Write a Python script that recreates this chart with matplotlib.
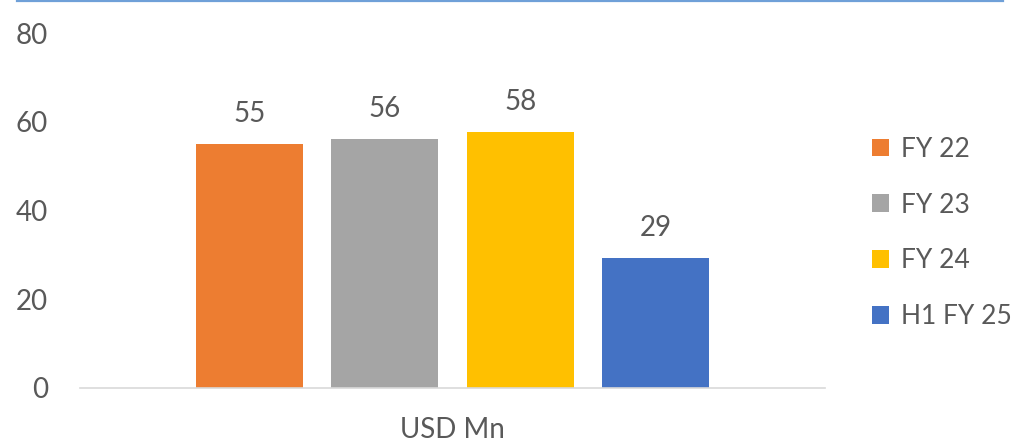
"""Clustered bar chart: revenue by fiscal period (USD Mn)."""

import matplotlib.pyplot as plt
from matplotlib.lines import Line2D
from matplotlib.patches import Patch

CATEGORY = "USD Mn"
SERIES = ["FY 22", "FY 23", "FY 24", "H1 FY 25"]
VALUES = [55.0, 56.1, 57.8, 29.4]
COLOURS = ["#ED7D31", "#A5A5A5", "#FFC000", "#4472C4"]
Y_TICKS = [0, 20, 40, 60, 80]

TEXT = "#595959"
FS = 20
plt.rcParams["font.family"] = ["Lato", "DejaVu Sans"]

fig = plt.figure(figsize=(10.30, 4.43), dpi=100)
ax = fig.add_axes([80 / 1030, 1 - 388 / 443, 745 / 1030, 355 / 443])

step = 0.182
width = 0.1436
for i, (name, val, col) in enumerate(zip(SERIES, VALUES, COLOURS)):
    x = (i - 1.5) * step
    ax.bar(x, val, width=width, color=col, label=name)
    ax.annotate(f"{val:.0f}", (x, val), xytext=(0, 12), textcoords="offset points",
                ha="center", va="bottom", fontsize=FS, color=TEXT)

ax.set_xlim(-0.5, 0.5)
ax.set_ylim(0, 80)
ax.set_yticks(Y_TICKS)
ax.set_yticklabels([str(t) for t in Y_TICKS], fontsize=FS, color=TEXT)
ax.set_xticks([0])
ax.set_xticklabels([CATEGORY], fontsize=FS, color=TEXT)
ax.tick_params(axis="y", length=0, pad=23)
ax.tick_params(axis="x", length=0, pad=21)
for side in ("top", "right", "left"):
    ax.spines[side].set_visible(False)
ax.spines["bottom"].set_color("#D9D9D9")
ax.spines["bottom"].set_linewidth(1.2)

handles = [Patch(facecolor=c, edgecolor="none") for c in COLOURS]
fig.legend(handles, SERIES, loc="center left", bbox_to_anchor=(848 / 1030, 1 - 233 / 443),
           frameon=False, fontsize=19, labelcolor=TEXT, handlelength=0.65,
           handleheight=0.65, handletextpad=0.45, labelspacing=1.17)

fig.add_artist(Line2D([17 / 1030, 1003 / 1030], [1 - 1 / 443, 1 - 1 / 443],
                      transform=fig.transFigure, color="#6FA0D8", linewidth=1.6))

fig.savefig("out.png", dpi=100)
